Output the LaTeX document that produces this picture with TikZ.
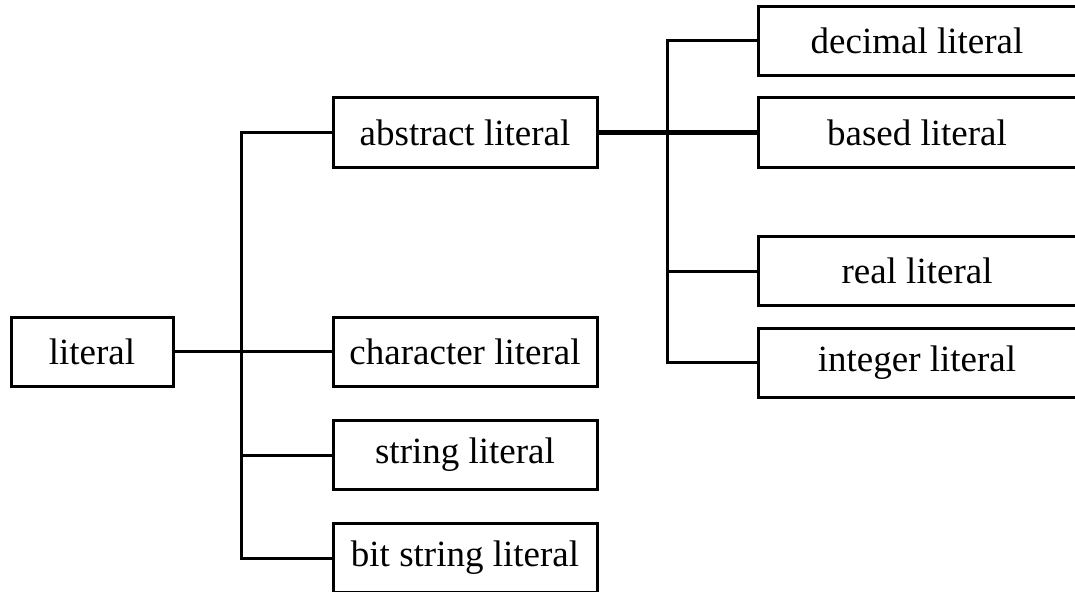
\documentclass[tikz,border=0pt]{standalone}
\usepackage{fontspec}
\setmainfont{Liberation Serif}
\begin{document}
\begin{tikzpicture}[x=1pt,y=-1pt,
  box/.style={draw=black, line width=3pt, fill=white, minimum height=69pt, inner sep=0pt, font=\fontsize{37}{44}\selectfont},
  lbox/.style={box, minimum width=264pt},
  rbox/.style={box, minimum width=318pt},
  conn/.style={draw=black, line width=3pt}]
\useasboundingbox (0,0) rectangle (1075,591);
\clip (0,0) rectangle (1075,591);
\coordinate (j1) at (241,0);
\coordinate (j2) at (667,0);
\node[box, minimum width=162pt] (lit) at (92,351.5) {literal};
\node[lbox] (abs) at (465,132.5) {abstract literal};
\node[lbox] (chr) at (465,351.5) {character literal};
\node[lbox] (str) at (465,455) {string literal};
\node[lbox] (bit) at (465,558) {bit string literal};
\node[rbox] (dec) at (917,41) {decimal literal};
\node[rbox] (bas) at (917,132.5) {based literal};
\node[rbox] (rea) at (917,271) {real literal};
\node[rbox] (int) at (917,362.5) {integer literal};
\draw[conn] (abs.west) -- (abs.west -| j1) -- (bit.west -| j1) -- (bit.west);
\draw[conn] (lit.east) -- (chr.west);
\draw[conn] (str.west) -- (str.west -| j1);
\draw[conn] (dec.west) -- (dec.west -| j2) -- (int.west -| j2) -- (int.west);
\draw[conn, line width=4.5pt] (abs.east) -- (bas.west);
\draw[conn] (rea.west) -- (rea.west -| j2);
\end{tikzpicture}
\end{document}
